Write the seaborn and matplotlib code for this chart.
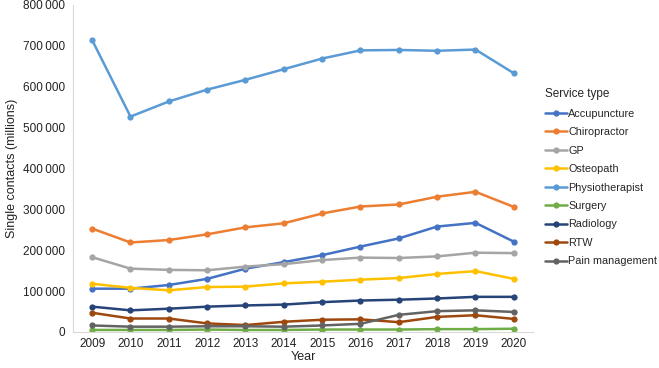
import matplotlib
matplotlib.use("Agg")
import matplotlib.pyplot as plt
import seaborn as sns
import pandas as pd
from matplotlib.ticker import FuncFormatter

years = list(range(2009, 2021))
accupuncture = [106000, 106000, 115000, 130000, 155000, 171000, 188000, 209000, 229000, 258000, 267000, 221000]
chiropractor = [253000, 219000, 225000, 239000, 256000, 266000, 290000, 307000, 312000, 331000, 343000, 306000]
gp = [183000, 155000, 152000, 151000, 160000, 166000, 176000, 182000, 181000, 185000, 194000, 193000]
osteopath = [118000, 108000, 102000, 110000, 111000, 119000, 123000, 128000, 132000, 142000, 149000, 130000]
physiotherapist = [714000, 527000, 564000, 593000, 617000, 643000, 669000, 689000, 690000, 688000, 691000, 633000]
surgery = [5000, 5000, 5000, 6000, 5000, 5000, 6000, 6000, 6000, 7000, 7000, 8000]
radiology = [62000, 53000, 57000, 62000, 65000, 67000, 73000, 77000, 79000, 82000, 86000, 86000]
rtw = [47000, 33000, 33000, 21000, 17000, 25000, 30000, 31000, 24000, 37000, 41000, 32000]
pain_management = [16000, 13000, 13000, 14000, 14000, 13000, 16000, 20000, 42000, 51000, 53000, 49000]

series_names = ["Accupuncture", "Chiropractor", "GP", "Osteopath", "Physiotherapist",
                "Surgery", "Radiology", "RTW", "Pain management"]
series_values = [accupuncture, chiropractor, gp, osteopath, physiotherapist,
                 surgery, radiology, rtw, pain_management]
colors = ["#4472C4", "#ED7D31", "#A5A5A5", "#FFC000", "#5B9BD5",
          "#70AD47", "#264478", "#9E480E", "#636363"]

rows = []
for name, vals in zip(series_names, series_values):
    for y, v in zip(years, vals):
        rows.append({"Year": y, "Value": v, "Service type": name})
df = pd.DataFrame(rows)

sns.set_theme(style="white")
plt.rcParams['font.family'] = ['Liberation Sans', 'DejaVu Sans']

fig = plt.figure(figsize=(6.59, 3.68), dpi=100)
ax = fig.add_axes([73/659, 1-332/368, (533-73)/659, (332-5)/368])

sns.lineplot(data=df, x="Year", y="Value", hue="Service type", hue_order=series_names,
             palette=colors, marker="o", markersize=4.5, markeredgewidth=0,
             linewidth=1.8, ax=ax)

ax.set_xlim(2008.5, 2020.5)
ax.set_ylim(0, 800000)
ax.set_xticks(years)
ax.set_xticklabels([str(y) for y in years], fontsize=8.5, color="#222222")
ax.set_yticks(range(0, 800001, 100000))
ax.yaxis.set_major_formatter(FuncFormatter(lambda v, p: "0" if v == 0 else f"{int(v):,}".replace(",", "\u2009")))
ax.tick_params(axis="y", labelsize=8.5, colors="#222222", length=0, pad=6)
ax.tick_params(axis="x", length=0, pad=4)
for s in ["top", "right"]:
    ax.spines[s].set_visible(False)
for s in ["left", "bottom"]:
    ax.spines[s].set_color("#D9D9D9")
    ax.spines[s].set_linewidth(0.8)

ax.set_xlabel("Year", fontsize=9, color="#222222", labelpad=1)
ax.set_ylabel("Single contacts (millions)", fontsize=9, color="#222222", labelpad=3)

leg = ax.legend(title="Service type", loc="upper left", bbox_to_anchor=(541/659, 1-84/368),
                bbox_transform=fig.transFigure, frameon=False, fontsize=7.8,
                title_fontsize=8.5, handlelength=2.0, handletextpad=0.1,
                labelspacing=0.78, borderaxespad=0)
leg._legend_box.align = "left"

fig.savefig("out.png", dpi=100)
